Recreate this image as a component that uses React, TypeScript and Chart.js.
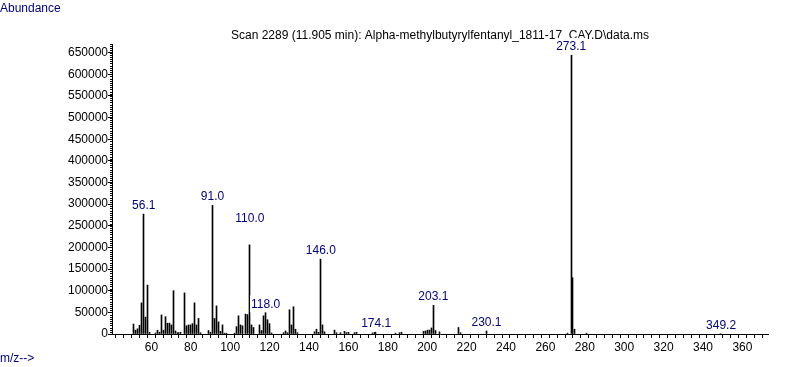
import { useEffect, useRef } from 'react';
import { Chart, registerables } from 'chart.js';

Chart.register(...registerables);

const FONT = "'Liberation Sans', Arial, sans-serif";
const NAVY = '#000080';

const titleText = 'Scan 2289 (11.905 min): Alpha-methylbutyrylfentanyl_1811-17_CAY.D\\data.ms';
const yAxisTitle = 'Abundance';
const xAxisTitle = 'm/z-->';

const mzValues = [
  51, 52, 53, 54, 55, 56, 57, 58, 59, 62, 63, 64, 65, 66, 67, 68, 69, 70, 71, 72,
  73, 74, 75, 77, 78, 79, 80, 81, 82, 83, 84, 85, 89, 90, 91, 92, 93, 94, 95, 96,
  97, 98, 102, 103, 104, 105, 106, 108, 109, 110, 111, 112, 115, 116, 117, 118, 119, 120, 121, 127,
  128, 129, 130, 131, 132, 133, 134, 143, 144, 145, 146, 147, 148, 153, 154, 156, 158, 159, 160, 163,
  164, 172, 173, 174, 184, 186, 187, 198, 199, 200, 201, 202, 203, 204, 206, 216, 217, 230, 271, 273,
  274, 275, 281, 349,
];

const abundances = [
  23000, 9000, 12000, 20000, 72000, 278000, 39000, 113000, 4000, 2500, 8500, 4000, 44000, 9000, 40000, 25000, 25000, 21000, 100000, 7000,
  3000, 3000, 4000, 95000, 19000, 21000, 21000, 24000, 72000, 21000, 36000, 3000, 8000, 4000, 298000, 36000, 65000, 28000, 6000, 21000,
  2000, 2000, 2000, 17000, 42000, 21000, 19000, 46000, 45000, 206000, 21000, 15000, 21000, 8000, 42000, 50000, 33000, 24000, 2500, 3000,
  7000, 3000, 56000, 21000, 63000, 11000, 3000, 5000, 11000, 4000, 174000, 21000, 5000, 9000, 3000, 3000, 6000, 3000, 4000, 3000,
  4000, 2500, 3500, 5000, 2000, 3000, 4000, 6000, 7000, 9000, 9000, 14000, 67000, 8000, 5000, 15000, 3000, 8000, 2000, 645000,
  130000, 11000, 2000, 1500,
];

const peakLabels = ['56.1', '91.0', '110.0', '118.0', '146.0', '174.1', '203.1', '230.1', '273.1', '349.2'];

const xMin = 40;
const xMax = 373;
const xStep = 4;
const xLabelStep = 20;
const yMin = 0;
const yMax = 670000;
const yStep = 50000;
const yTickMax = 650000;
const yMinorStep = 5000;

export default function App() {
  const ref = useRef<HTMLCanvasElement>(null);

  useEffect(() => {
    document.body.style.margin = '0';
    const canvas = ref.current;
    if (!canvas) return;

    const labelLift: Record<string, number> = { '110.0': 26 };

    const snapPlugin = {
      id: 'snapBars',
      afterDatasetsUpdate(chart: any) {
        chart.getDatasetMeta(0).data.forEach((el: any) => {
          el.x = Math.floor(el.x) + 0.5;
        });
      },
    };

    const textPlugin = {
      id: 'msText',
      afterDraw(chart: any) {
        const c = chart.ctx as CanvasRenderingContext2D;
        const xs = chart.scales.x;
        const ys = chart.scales.y;
        const area = chart.chartArea;
        c.save();
        c.font = `12px ${FONT}`;
        c.textBaseline = 'middle';
        c.textAlign = 'left';
        c.fillStyle = NAVY;
        c.fillText(yAxisTitle, 0, 9);
        c.fillText(xAxisTitle, 0, 359);
        c.fillStyle = '#000';
        c.textAlign = 'center';
        c.fillText(titleText, (area.left + area.right) / 2, 36);

        // minor ticks on y axis
        c.strokeStyle = '#000';
        c.lineWidth = 1;
        for (let v = yMin; v <= yMax; v += yMinorStep) {
          const py = Math.round(ys.getPixelForValue(v)) + 0.5;
          c.beginPath();
          c.moveTo(area.left - 2, py);
          c.lineTo(area.left, py);
          c.stroke();
        }

        // peak labels
        peakLabels.forEach((lab) => {
          const m = parseFloat(lab);
          const idx = mzValues.indexOf(Math.round(m));
          if (idx < 0) return;
          const a = abundances[idx];
          const px = xs.getPixelForValue(m);
          const py = ys.getPixelForValue(a) - (labelLift[lab] ?? 8);
          const w = c.measureText(lab).width;
          c.fillStyle = '#fff';
          c.fillRect(px - w / 2 - 1, py - 9, w + 2, 17);
          c.fillStyle = NAVY;
          c.fillText(lab, px, py);
        });
        c.restore();
      },
    };

    const chart = new Chart(canvas, {
      type: 'bar',
      data: {
        datasets: [
          {
            data: mzValues.map((m, i) => ({ x: m, y: abundances[i] })),
            backgroundColor: '#000',
            borderWidth: 0,
            barThickness: 1,
          } as any,
        ],
      },
      options: {
        responsive: false,
        animation: false,
        devicePixelRatio: 1,
        layout: { padding: { top: 44, right: 19, left: 0, bottom: 0 } },
        plugins: {
          legend: { display: false },
          tooltip: { enabled: false },
          title: { display: false },
        },
        scales: {
          x: {
            type: 'linear',
            min: xMin,
            max: xMax,
            offset: false,
            grid: { display: true, drawOnChartArea: false, drawTicks: true, tickLength: 4, color: '#000' },
            border: { display: true, color: '#000', width: 1 },
            ticks: {
              autoSkip: false,
              maxRotation: 0,
              padding: 2,
              color: '#000',
              font: { family: FONT, size: 12 },
              callback: (v: any) => (Number(v) % xLabelStep === 0 && Number(v) !== xMin ? String(v) : ''),
            },
            afterBuildTicks: (s: any) => {
              const t = [];
              for (let v = xMin; v <= xMax; v += xStep) t.push({ value: v });
              s.ticks = t;
            },
            afterFit: (s: any) => {
              s.height = 33;
            },
          },
          y: {
            type: 'linear',
            min: yMin,
            max: yMax,
            grid: { display: true, drawOnChartArea: false, drawTicks: true, tickLength: 4, color: '#000' },
            border: { display: true, color: '#000', width: 1 },
            ticks: {
              autoSkip: false,
              padding: 0,
              color: '#000',
              font: { family: FONT, size: 12 },
              callback: (v: any) => String(v),
            },
            afterBuildTicks: (s: any) => {
              const t = [];
              for (let v = yMin; v <= yTickMax; v += yStep) t.push({ value: v });
              s.ticks = t;
            },
            afterFit: (s: any) => {
              s.width = 112;
            },
          },
        },
      } as any,
      plugins: [snapPlugin, textPlugin],
    });

    return () => chart.destroy();
  }, []);

  return <canvas ref={ref} width={787} height={367} style={{ display: 'block' }} />;
}
